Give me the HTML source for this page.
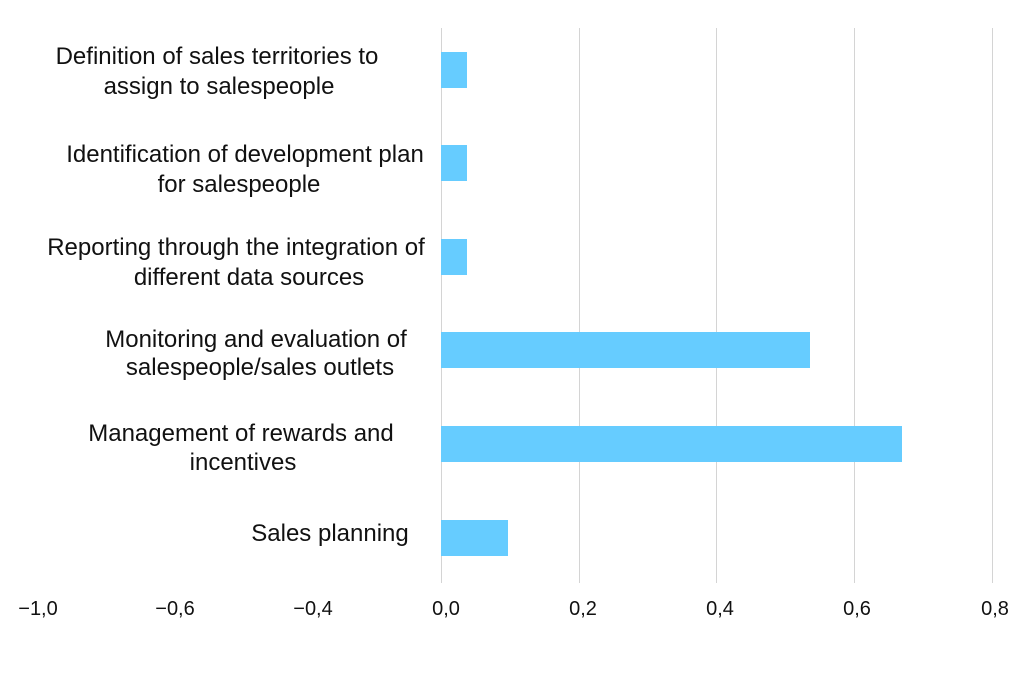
<!DOCTYPE html><html><head><style>
body{margin:0;background:#fff;width:1024px;height:683px;overflow:hidden;position:relative;font-family:"Liberation Sans",sans-serif;color:#111}
.g{position:absolute;top:28px;height:555px;width:1px;background:#d4d4d4}
.b{position:absolute;left:441px;height:36px;background:#66ccff}
.l{position:absolute;font-size:24px;line-height:30px;white-space:nowrap;transform:translate(-50%,-50%)}
.t{position:absolute;top:598px;font-size:20px;transform:translateX(-50%)}
</style></head><body>
<div class="g" style="left:441px"></div><div class="g" style="left:579px"></div><div class="g" style="left:716px"></div><div class="g" style="left:854px"></div><div class="g" style="left:992px"></div>
<div class="b" style="top:52px;width:26px"></div>
<div class="b" style="top:145px;width:26px"></div>
<div class="b" style="top:239px;width:26px"></div>
<div class="b" style="top:332px;width:369px"></div>
<div class="b" style="top:426px;width:461px"></div>
<div class="b" style="top:520px;width:67px"></div>
<div class="l" style="left:217px;top:57px">Definition of sales territories to</div>
<div class="l" style="left:219px;top:87px">assign to salespeople</div>
<div class="l" style="left:245px;top:155px">Identification of development plan</div>
<div class="l" style="left:239px;top:185px">for salespeople</div>
<div class="l" style="left:236px;top:248px">Reporting through the integration of</div>
<div class="l" style="left:249px;top:278px">different data sources</div>
<div class="l" style="left:256px;top:340px">Monitoring and evaluation of</div>
<div class="l" style="left:260px;top:368px">salespeople/sales outlets</div>
<div class="l" style="left:241px;top:434px">Management of rewards and</div>
<div class="l" style="left:243px;top:463px">incentives</div>
<div class="l" style="left:330px;top:534px">Sales planning</div>
<div class="t" style="left:38px">−1,0</div><div class="t" style="left:175px">−0,6</div><div class="t" style="left:313px">−0,4</div><div class="t" style="left:446px">0,0</div><div class="t" style="left:583px">0,2</div><div class="t" style="left:720px">0,4</div><div class="t" style="left:857px">0,6</div><div class="t" style="left:995px">0,8</div>
</body></html>
